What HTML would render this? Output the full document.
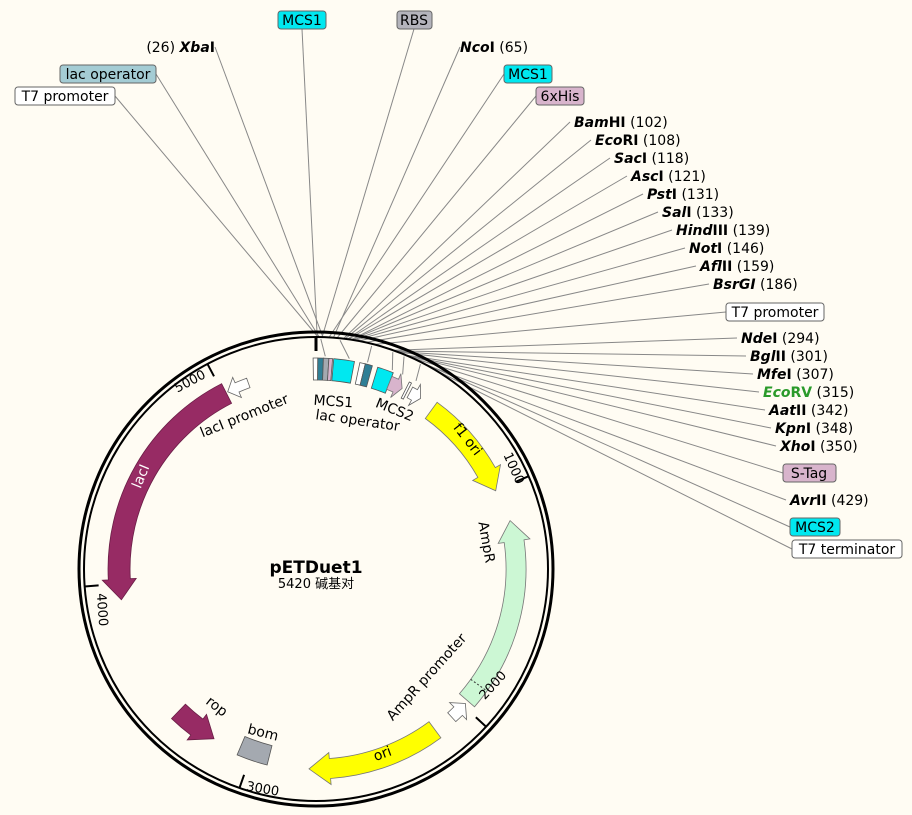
<!DOCTYPE html>
<html><head><meta charset="utf-8">
<style>
html,body{margin:0;padding:0;background:#fffcf3;}
svg{display:block;font-family:"DejaVu Sans","Noto Sans CJK SC",sans-serif;}
.t{font-size:14px;fill:#000}
.b{font-weight:bold;font-style:italic}
.lab{font-size:14px}
</style></head>
<body>
<svg id="s" width="912" height="815" viewBox="0 0 912 815" xmlns="http://www.w3.org/2000/svg">
<rect width="912" height="815" fill="#fffcf3"/>
<g id="lines" stroke="#888" stroke-width="1" fill="none"></g>
<g id="shapes"></g>
<circle cx="316" cy="569" r="237" fill="none" stroke="#000" stroke-width="3"/>
<circle cx="316" cy="569" r="232" fill="none" stroke="#000" stroke-width="2"/>
<g id="ticks" stroke="#000" stroke-width="2"></g>

<rect x="278" y="11" width="48" height="18" rx="3" fill="#00e8f0" stroke="#666"/>
<text x="302" y="25" class="t" text-anchor="middle">MCS1</text>
<rect x="397" y="11" width="35" height="18" rx="3" fill="#b4b4bc" stroke="#666"/>
<text x="414" y="25" class="t" text-anchor="middle">RBS</text>
<text x="215" y="52" class="t" text-anchor="end">(26)  <tspan class="b">Xba</tspan><tspan font-weight="bold">I</tspan></text>
<text x="460" y="52" class="t"><tspan class="b">Nco</tspan><tspan font-weight="bold">I</tspan>  (65)</text>
<rect x="60" y="65" width="96" height="18" rx="3" fill="#a4ccd4" stroke="#666"/>
<text x="108" y="79" class="t" text-anchor="middle">lac operator</text>
<rect x="504" y="65" width="48" height="18" rx="3" fill="#00e8f0" stroke="#666"/>
<text x="528" y="79" class="t" text-anchor="middle">MCS1</text>
<rect x="15" y="87" width="100" height="18" rx="3" fill="#fff" stroke="#666"/>
<text x="65" y="101" class="t" text-anchor="middle">T7 promoter</text>
<rect x="536" y="87" width="48" height="18" rx="3" fill="#d8b4cc" stroke="#666"/>
<text x="560" y="101" class="t" text-anchor="middle">6xHis</text>

<text x="574" y="127" class="t"><tspan class="b">Bam</tspan><tspan font-weight="bold">HI</tspan>  (102)</text>
<text x="595" y="145" class="t"><tspan class="b">Eco</tspan><tspan font-weight="bold">RI</tspan>  (108)</text>
<text x="614" y="163" class="t"><tspan class="b">Sac</tspan><tspan font-weight="bold">I</tspan>  (118)</text>
<text x="631" y="181" class="t"><tspan class="b">Asc</tspan><tspan font-weight="bold">I</tspan>  (121)</text>
<text x="647" y="199" class="t"><tspan class="b">Pst</tspan><tspan font-weight="bold">I</tspan>  (131)</text>
<text x="662" y="217" class="t"><tspan class="b">Sal</tspan><tspan font-weight="bold">I</tspan>  (133)</text>
<text x="676" y="235" class="t"><tspan class="b">Hind</tspan><tspan font-weight="bold">III</tspan>  (139)</text>
<text x="689" y="253" class="t"><tspan class="b">Not</tspan><tspan font-weight="bold">I</tspan>  (146)</text>
<text x="700" y="271" class="t"><tspan class="b">Afl</tspan><tspan font-weight="bold">II</tspan>  (159)</text>
<text x="713" y="289" class="t"><tspan class="b">BsrGI</tspan>  (186)</text>
<rect x="726" y="303" width="98" height="18" rx="3" fill="#fff" stroke="#666"/>
<text x="775" y="317" class="t" text-anchor="middle">T7 promoter</text>
<text x="741" y="343" class="t"><tspan class="b">Nde</tspan><tspan font-weight="bold">I</tspan>  (294)</text>
<text x="750" y="361" class="t"><tspan class="b">Bgl</tspan><tspan font-weight="bold">II</tspan>  (301)</text>
<text x="757" y="379" class="t"><tspan class="b">Mfe</tspan><tspan font-weight="bold">I</tspan>  (307)</text>
<text x="763" y="397" class="t"><tspan class="b" fill="#2a9a2a">Eco</tspan><tspan font-weight="bold" fill="#2a9a2a">RV</tspan>  (315)</text>
<text x="769" y="415" class="t"><tspan class="b">Aat</tspan><tspan font-weight="bold">II</tspan>  (342)</text>
<text x="775" y="433" class="t"><tspan class="b">Kpn</tspan><tspan font-weight="bold">I</tspan>  (348)</text>
<text x="780" y="451" class="t"><tspan class="b">Xho</tspan><tspan font-weight="bold">I</tspan>  (350)</text>
<rect x="783" y="464" width="53" height="18" rx="3" fill="#d8b4cc" stroke="#666"/>
<text x="809" y="478" class="t" text-anchor="middle">S-Tag</text>
<text x="790" y="505" class="t"><tspan class="b">Avr</tspan><tspan font-weight="bold">II</tspan>  (429)</text>
<rect x="790" y="518" width="50" height="18" rx="3" fill="#00e8f0" stroke="#666"/>
<text x="815" y="532" class="t" text-anchor="middle">MCS2</text>
<rect x="792" y="540" width="110" height="18" rx="3" fill="#fff" stroke="#666"/>
<text x="847" y="554" class="t" text-anchor="middle">T7 terminator</text>

<text x="316" y="573" text-anchor="middle" font-size="17" font-weight="bold">pETDuet1</text>
<text x="316" y="588" text-anchor="middle" font-size="13">5420 碱基对</text>

<text x="333" y="406" class="t" text-anchor="middle" transform="rotate(4 333 406)">MCS1</text>
<text x="357" y="425" class="t" text-anchor="middle" transform="rotate(8 357 425)">lac operator</text>
<text x="393" y="414" class="t" text-anchor="middle" transform="rotate(22 393 414)">MCS2</text>
<text x="246" y="420" class="t" text-anchor="middle" transform="rotate(-22 246 420)">lacI promoter</text>
<text x="464" y="442" class="t" text-anchor="middle" transform="rotate(52 464 442)">f1 ori</text>
<text x="482" y="543" class="t" text-anchor="middle" transform="rotate(80 482 543)">AmpR</text>
<text x="430" y="680" class="t" text-anchor="middle" transform="rotate(-48 430 680)">AmpR promoter</text>
<text x="384" y="758" class="t" text-anchor="middle" transform="rotate(-20 384 758)">ori</text>
<text x="262" y="737" class="t" text-anchor="middle" transform="rotate(14 262 737)">bom</text>
<text x="214" y="710" class="t" text-anchor="middle" transform="rotate(38 214 710)">rop</text>
<text x="145" y="478" text-anchor="middle" font-size="14" fill="#fff" transform="rotate(-68 145 478)">lacI</text>
<text x="192" y="385" font-size="13" text-anchor="middle" transform="rotate(-28 192 385)">5000</text>
<text x="510" y="470" font-size="13" text-anchor="middle" transform="rotate(66 510 470)">1000</text>
<text x="496" y="688" font-size="13" text-anchor="middle" transform="rotate(-48 496 688)">2000</text>
<text x="262" y="793" font-size="13" text-anchor="middle" transform="rotate(10 262 793)">3000</text>
<text x="98" y="610" font-size="13" text-anchor="middle" transform="rotate(86 98 610)">4000</text>
</svg>
<script>
var cx=316,cy=569,NS="http://www.w3.org/2000/svg";
function P(a,r){a=a*Math.PI/180;return [cx+r*Math.sin(a),cy-r*Math.cos(a)];}
function f(p){return p[0].toFixed(1)+","+p[1].toFixed(1);}
function add(g,tag,at){var e=document.createElementNS(NS,tag);for(var k in at)e.setAttribute(k,at[k]);document.getElementById(g).appendChild(e);return e;}
function arrow(a1,a2,r,w,h,fill,stroke){
 var ri=r-w/2,ro=r+w/2,dir=a2>a1?1:-1,ab=a2-dir*h,hw=w*0.5+6;
 var large=Math.abs(ab-a1)>180?1:0,sw=dir>0?1:0;
 var d="M"+f(P(a1,ro))+" A"+ro+","+ro+" 0 "+large+" "+sw+" "+f(P(ab,ro))+" L"+f(P(ab,r+hw))+" L"+f(P(a2,r))+" L"+f(P(ab,r-hw))+" L"+f(P(ab,ri))+" A"+ri+","+ri+" 0 "+large+" "+(1-sw)+" "+f(P(a1,ri))+"Z";
 add("shapes","path",{d:d,fill:fill,stroke:stroke||"#555","stroke-width":0.8});
}
function box(a1,a2,r,w,fill){
 var ri=r-w/2,ro=r+w/2;
 var d="M"+f(P(a1,ro))+" A"+ro+","+ro+" 0 0 1 "+f(P(a2,ro))+" L"+f(P(a2,ri))+" A"+ri+","+ri+" 0 0 0 "+f(P(a1,ri))+"Z";
 add("shapes","path",{d:d,fill:fill,stroke:"#555","stroke-width":0.8});
}
var L=[[302,29,0.3],[414,29,1.5],[215,47,1.7],[460,47,4.3],[156,74,0.8],[504,74,3.2],[115,96,0.5],[536,96,5.2],
[570,122,6.8],[591,140,7.2],[610,158,7.8],[627,176,8.0],[643,194,8.7],[658,212,8.8],[672,230,9.2],[685,248,9.7],[696,266,10.6],[709,284,12.4],[726,312,14.5],
[737,338,19.5],[746,356,20],[753,374,20.4],[759,392,20.9],[765,410,22.7],[771,428,23.1],[776,446,23.2],[783,473,24.3],[786,500,28.5],[790,527,22.3],[792,549,31]];
L.forEach(function(l){var q=P(l[2],232);add("lines","line",{x1:l[0],y1:l[1],x2:q[0].toFixed(1),y2:q[1].toFixed(1)});});
[[1.2,2.5],[6,9],[14,14],[19.5,21],[22.5,24],[27,28]].forEach(function(a){var p=P(a[0],230),q=P(a[1],213);add("lines","line",{x1:p[0],y1:p[1],x2:q[0],y2:q[1]});});
[0,1000,2000,3000,4000,5000].forEach(function(b){var a=b/5420*360;var p=P(a,232),q=P(a,218);add("ticks","line",{x1:p[0],y1:p[1],x2:q[0],y2:q[1],"stroke-width":b==0?3:2});});
arrow(333,261,197,22,6,"#972b64","#6a1e46");
arrow(340,333.5,198,10,3,"#fff","#666");
arrow(36,66.5,196,20,6,"#ffff00","#777");
arrow(131,76,200,20,6,"#ccf7d4","#777");
var d1=P(125.5,190),d2=P(125.5,210);add("shapes","line",{x1:d1[0],y1:d1[1],x2:d2[0],y2:d2[1],stroke:"#333","stroke-dasharray":"2,2"});
arrow(137.5,132,201,12,3,"#fff","#666");
arrow(143.5,182,200,20,6,"#ffff00","#777");
box(194,203,192,20,"#a4a9b0");
arrow(224,211,198,20,6,"#972b64","#6a1e46");
box(-0.8,0.5,200,22,"#fff");
box(0.5,2,200,22,"#2f7f96");
box(2,3.5,200,22,"#a4a9b0");
box(3.5,4.5,200,22,"#d8b4cc");
box(4.8,10.5,200,22,"#00e8f0");
box(12,13.5,200,22,"#fff");
box(13.5,15.5,200,22,"#2f7f96");
box(17,21.5,200,22,"#00e8f0");
arrow(21.5,25.5,200,14,2,"#d8b4cc","#777");
box(26.5,27.2,200,18,"#fff");
arrow(28,31.5,200,12,2,"#fff","#666");
</script>
</body></html>
